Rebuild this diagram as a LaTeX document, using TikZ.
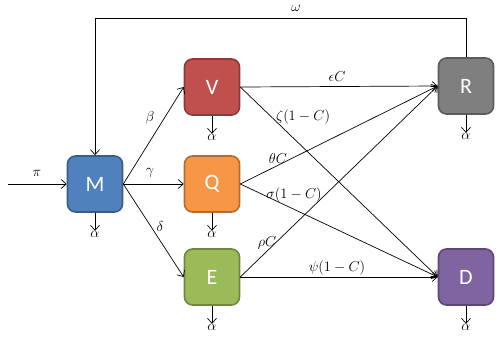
\documentclass[tikz,border=0pt]{standalone}
\usepackage{fontspec}
\setsansfont{Carlito}
\usetikzlibrary{arrows.meta}
\definecolor{cM}{HTML}{4F81BD}
\definecolor{cV}{HTML}{C0504D}
\definecolor{cQ}{HTML}{F79646}
\definecolor{cE}{HTML}{9BBB59}
\definecolor{cR}{HTML}{7F7F7F}
\definecolor{cD}{HTML}{8064A2}
\begin{document}
\begin{tikzpicture}[x=1pt,y=-1pt,
  box/.style={draw=#1!72!black, fill=#1, line width=1.6pt, rounded corners=8pt,
    minimum width=55pt, minimum height=56pt, text=white, inner sep=0pt,
    font=\sffamily\fontsize{22}{22}\selectfont},
  arr/.style={-{Straight Barb[length=5pt,width=9pt]}, line width=0.7pt},
  lbl/.style={font=\fontsize{14}{14}\selectfont, inner sep=0pt}]
\useasboundingbox (0,0) rectangle (499,338);
\node[box=cM] (M) at (95,184) {M};
\node[box=cV] (V) at (212,87) {V};
\node[box=cQ] (Q) at (212,184) {Q};
\node[box=cE] (E) at (212,277) {E};
\node[box=cR] (R) at (466,86) {R};
\node[box=cD] (D) at (466,277) {D};
% top loop
\coordinate (t1) at (466,18);
\draw[arr] (R.north) -- (R.north |- t1) -- (M.north |- t1) -- (M.north);
\node[lbl] (lw) at (296,8) {$\omega$};
% input
\coordinate (pin) at (8,184);
\draw[arr] (pin) -- (M.west);
\node[lbl] (lpi) at (37,173) {$\pi$};
% outflows
\foreach \n in {M,V,Q,E,R,D}{
  \node[lbl, anchor=north] (a\n) at ([yshift=-18pt]\n.south) {$\alpha$};
  \draw[arr] (\n.south) -- (a\n.north);
}
% M flows
\draw[arr] (M.east) -- (V.west);
\draw[arr] (M.east) -- (Q.west);
\draw[arr] (M.east) -- (E.west);
\node[lbl] (lb) at (150,118) {$\beta$};
\node[lbl] (lg) at (150,173) {$\gamma$};
\node[lbl] (ld) at (160,226) {$\delta$};
% to R and D
\draw[arr] (V.east) -- (R.west);
\draw[arr] (V.east) -- (D.west);
\draw[arr] (Q.east) -- (R.west);
\draw[arr] (Q.east) -- (D.west);
\draw[arr] (E.east) -- (R.west);
\draw[arr] (E.east) -- (D.west);
\node[lbl] (l1) at (337,77) {$\epsilon C$};
\node[lbl] (l2) at (303,117) {$\zeta(1-C)$};
\node[lbl] (l3) at (278,158) {$\theta C$};
\node[lbl] (l4) at (294,195) {$\sigma(1-C)$};
\node[lbl] (l5) at (267,243) {$\rho C$};
\node[lbl] (l6) at (337,268) {$\psi(1-C)$};
\end{tikzpicture}
\end{document}
